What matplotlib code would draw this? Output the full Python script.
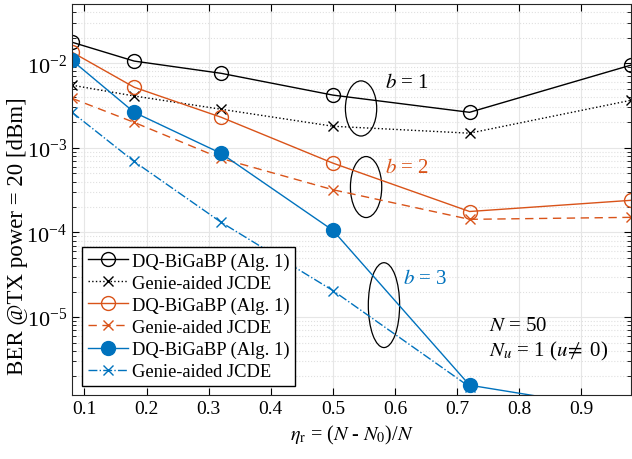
import matplotlib
matplotlib.use('Agg')
import matplotlib.pyplot as plt
from matplotlib.patches import Ellipse
import numpy as np

plt.rcParams['font.family'] = ['Liberation Serif', 'DejaVu Serif']
plt.rcParams['mathtext.fontset'] = 'stix'
plt.rcParams['font.size'] = 13

# data
eta = [0.08, 0.18, 0.32, 0.5, 0.72, 0.98]
dq_b1 = [0.0177, 0.0106, 0.0076, 0.0042, 0.00263, 0.0095]
genie_b1 = [0.0055, 0.0041, 0.00286, 0.0018, 0.00149, 0.00365]
dq_b2 = [0.0135, 0.0052, 0.0023, 0.00066, 0.000177, 0.00024]
genie_b2 = [0.00385, 0.0020, 0.00075, 0.00032, 0.000143, 0.000151]
dq_b3 = [0.0108, 0.00263, 0.00086, 0.000106, 1.57e-6, 7.7e-7]
genie_b3 = [0.00263, 0.00069, 0.000132, 2.06e-5, 1.5e-6, np.nan]

black = 'black'
orange = '#D95319'
blue = '#0072BD'

fig = plt.figure(figsize=(6.32, 4.6), dpi=100)
ax = fig.add_axes([0.114, 0.139, 0.8845, 0.85])

ax.plot(eta, dq_b1, '-o', color=black, lw=1.0, ms=10, mfc='none', mew=1.0, label='DQ-BiGaBP (Alg. 1)')
ax.plot(eta, genie_b1, ':x', color=black, lw=1.0, ms=7, mew=1.0, label='Genie-aided JCDE')
ax.plot(eta, dq_b2, '-o', color=orange, lw=1.0, ms=10, mfc='none', mew=1.0, label='DQ-BiGaBP (Alg. 1)')
ax.plot(eta, genie_b2, '--x', color=orange, lw=1.0, ms=7, mew=1.0, dashes=(6, 4), label='Genie-aided JCDE')
ax.plot(eta, dq_b3, '-o', color=blue, lw=1.0, ms=10, mfc=blue, mew=1.0, label='DQ-BiGaBP (Alg. 1)')
ax.plot(eta, genie_b3, '-.x', color=blue, lw=1.0, ms=7, mew=1.0, label='Genie-aided JCDE')

ax.set_yscale('log')
ax.set_xlim(0.08, 0.98)
ax.set_ylim(1.2e-6, 5e-2)
ax.set_xticks([0.1, 0.2, 0.3, 0.4, 0.5, 0.6, 0.7, 0.8, 0.9])
ax.set_xticklabels(['0.1', '0.2', '0.3', '0.4', '0.5', '0.6', '0.7', '0.8', '0.9'])
ax.set_yticks([1e-5, 1e-4, 1e-3, 1e-2])
ax.tick_params(which='both', direction='in', top=True, right=True)
ax.tick_params(axis='x', labelsize=14)
ax.tick_params(axis='y', labelsize=16)
ax.tick_params(which='major', length=5)
ax.tick_params(which='minor', length=3)
ax.grid(which='major', color='#e6e6e6', lw=0.8)
ax.grid(which='minor', color='#e0e0e0', lw=0.8, ls=':')
ax.set_axisbelow(True)
for s in ax.spines.values():
    s.set_color('#262626')

ax.set_xlabel(r'$\eta_{\mathrm{r}}$ = ($N$ - $N_0$)/$N$', fontsize=14.5)
ax.set_ylabel('BER @TX power = 20 [dBm]', fontsize=16.5, va='center')
ax.yaxis.set_label_coords(-0.098, 0.41)

leg = ax.legend(loc='lower left', bbox_to_anchor=(0.018, 0.024), borderaxespad=0,
                fancybox=False, edgecolor='black', framealpha=1, fontsize=13.3,
                handlelength=2.2, handletextpad=0.2, labelspacing=0.27, borderpad=0.3)
leg.get_frame().set_linewidth(1.0)

# annotation ellipses and labels
for cx, cy, h in [(0.517, 0.733, 0.141), (0.526, 0.532, 0.156), (0.558, 0.230, 0.217)]:
    ax.add_patch(Ellipse((cx, cy), 0.056, h, transform=ax.transAxes, fill=False, ec='black', lw=0.9))
ax.text(0.56, 0.80, r'$b$ = 1', transform=ax.transAxes, color=black, fontsize=15, va='center')
ax.text(0.56, 0.583, r'$b$ = 2', transform=ax.transAxes, color=orange, fontsize=15, va='center')
ax.text(0.592, 0.299, r'$b$ = 3', transform=ax.transAxes, color=blue, fontsize=15, va='center')
ax.text(0.746, 0.179, r'$N$ = 50', transform=ax.transAxes, fontsize=15, va='center')
ax.text(0.746, 0.113, r'$N_u$ = 1 ($u\!\neq$ 0)', transform=ax.transAxes, fontsize=15, va='center')

fig.savefig('out.png', dpi=100)
